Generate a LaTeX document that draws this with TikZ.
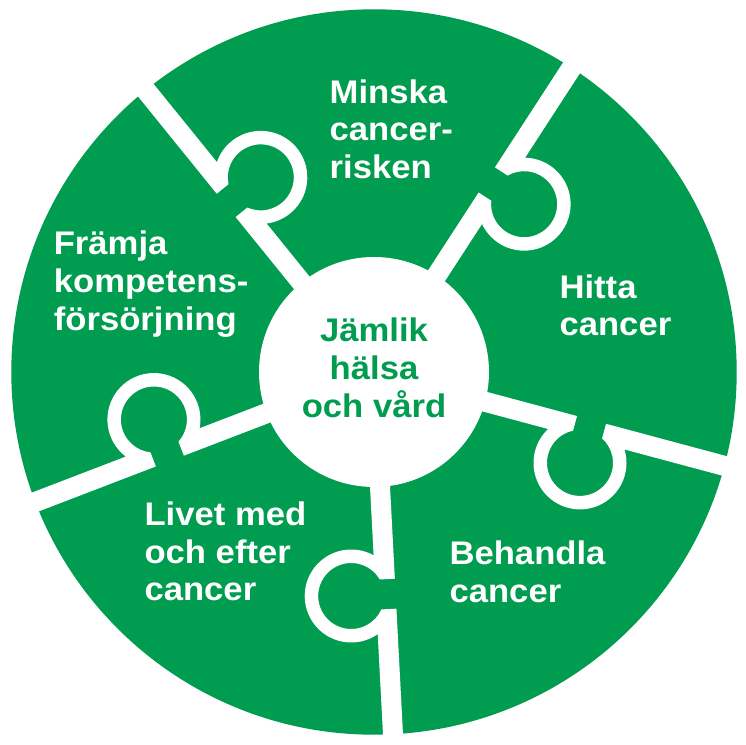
\documentclass[tikz,border=0pt]{standalone}
\usepackage{fontspec}
\newfontfamily\labelfont{Liberation Sans}[FakeStretch=1.06]
\definecolor{puzzlegreen}{HTML}{009C4F}
\begin{document}
\begin{tikzpicture}[x=1pt,y=1pt,
  lbl/.style={text=white, font=\labelfont\bfseries\fontsize{32.7}{38}\selectfont, inner sep=0pt, anchor=base west},
  ctr/.style={text=puzzlegreen, font=\labelfont\bfseries\fontsize{32.7}{38}\selectfont, inner sep=0pt, anchor=base},
  gapcut/.style={fill=white}]
\useasboundingbox (0,0) rectangle (746,744);
\coordinate (O) at (374,372);
\fill[puzzlegreen] (O) circle (362.7);
% five radial gaps, each with a puzzle knob
\foreach \a in {15,87,159,231,303} {
  \begin{scope}[shift={(O)}, rotate=-\a]
    \path[gapcut] (100,10) -- (207.5,10) -- (207.5,-5.11)
      arc[start angle=117.04, end angle=422.96, radius=33]
      -- (237.5,10) -- (390,10) -- (390,-10) -- (262.02,-10)
      arc[start angle=31.8, end angle=-211.8, radius=46.5]
      -- (100,-10) -- cycle;
  \end{scope}
}
\fill[white] (O) circle (115);
% Minska cancerrisken
\node[lbl] (m1) at (329.5,640.7) {Minska};
\node[lbl] (m2) at (329.5,603.1) {cancer-};
\node[lbl] (m3) at (329.5,565.5) {risken};
% Hitta cancer
\node[lbl] (h1) at (559.3,445.7) {Hitta};
\node[lbl] (h2) at (559.3,408.1) {cancer};
% Behandla cancer
\node[lbl] (b1) at (449.3,179.0) {Behandla};
\node[lbl] (b2) at (449.3,141.4) {cancer};
% Livet med och efter cancer
\node[lbl] (l1) at (144.3,218.3) {Livet med};
\node[lbl] (l2) at (144.3,180.7) {och efter};
\node[lbl] (l3) at (144.3,143.1) {cancer};
% Främja kompetensförsörjning
\node[lbl] (f1) at (53.6,489.0) {Främja};
\node[lbl] (f2) at (53.6,451.4) {kompetens-};
\node[lbl] (f3) at (53.6,413.8) {försörjning};
% centre
\node[ctr] (c1) at (374,402.3) {Jämlik};
\node[ctr] (c2) at (374,364.7) {hälsa};
\node[ctr] (c3) at (374,326.5) {och vård};
\end{tikzpicture}
\end{document}
